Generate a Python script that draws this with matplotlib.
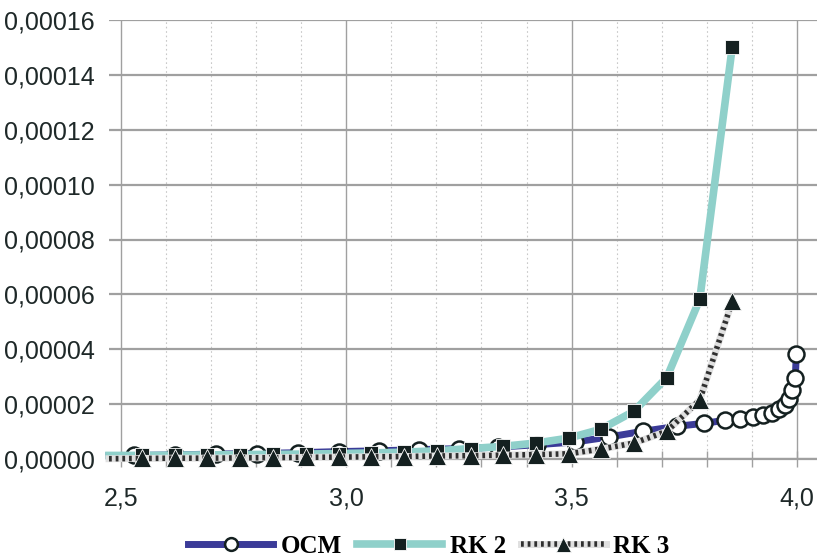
import matplotlib
matplotlib.use('Agg')
import matplotlib.pyplot as plt
from matplotlib.ticker import MultipleLocator, FuncFormatter
from matplotlib.legend_handler import HandlerTuple

# ---- data ----
x_ocm = [2.474, 2.529, 2.620, 2.711, 2.802, 2.893, 2.984, 3.073, 3.162, 3.251,
         3.336, 3.422, 3.507, 3.582, 3.658, 3.733, 3.793, 3.840, 3.873, 3.902,
         3.924, 3.944, 3.960, 3.973, 3.982, 3.989, 3.996, 3.998]
y_ocm = [0.0000012, 0.0000013, 0.0000015, 0.0000018, 0.0000020, 0.0000023,
         0.0000027, 0.0000030, 0.0000034, 0.0000038, 0.0000043, 0.0000052,
         0.0000062, 0.0000080, 0.0000101, 0.0000119, 0.0000130, 0.0000141,
         0.0000146, 0.0000152, 0.0000159, 0.0000166, 0.0000181, 0.0000197,
         0.0000217, 0.0000250, 0.0000297, 0.0000383]

x_rk = [2.474, 2.547, 2.620, 2.691, 2.764, 2.838, 2.911, 2.984, 3.056, 3.129,
        3.202, 3.276, 3.347, 3.420, 3.493, 3.564, 3.638, 3.711, 3.784, 3.856]
y_rk2 = [0.0000013, 0.0000013, 0.0000014, 0.0000015, 0.0000016, 0.0000017,
         0.0000018, 0.0000020, 0.0000022, 0.0000025, 0.0000030, 0.0000038,
         0.0000046, 0.0000058, 0.0000076, 0.0000108, 0.0000174, 0.0000297,
         0.0000582, 0.0001501]
y_rk3 = [0.0000001, 0.0000002, 0.0000003, 0.0000003, 0.0000004, 0.0000005,
         0.0000006, 0.0000007, 0.0000008, 0.0000009, 0.0000011, 0.0000012,
         0.0000014, 0.0000016, 0.0000019, 0.0000036, 0.0000058, 0.0000101,
         0.0000215, 0.0000575]

labels = ['OCM', 'RK 2', 'RK 3']

# ---- figure ----
fig = plt.figure(figsize=(8.17, 5.57), dpi=100)
ax = fig.add_axes([109/817, 1 - 459/557, 1 - 109/817, (459 - 20)/557])

dark = '#142020'
skip_first = slice(1, None)

l_ocm, = ax.plot(x_ocm, y_ocm, color='#3b3b98', lw=5, marker='o', ms=11.5,
                 mfc='white', mec=dark, mew=1.8, markevery=skip_first,
                 clip_on=False, zorder=3)
l_rk2, = ax.plot(x_rk, y_rk2, color='#8fd0ca', lw=5.5, marker='s', ms=10.5,
                 mfc=dark, mec='white', mew=0.6, markevery=skip_first,
                 clip_on=False, zorder=4)
# hatched look for RK 3: light base + dark dots on top
l_rk3a, = ax.plot(x_rk, y_rk3, color='#e0e0e0', lw=5, clip_on=False, zorder=5)
l_rk3b, = ax.plot(x_rk, y_rk3, color='#303030', lw=4, ls=(0, (0.5, 0.7)),
                  marker='^', ms=13.5, mfc=dark, mec='white', mew=0.6,
                  markevery=skip_first, clip_on=False, zorder=6)

ax.set_xlim(2.474, 4.044)
ax.set_ylim(0, 0.00016)

ax.xaxis.set_major_locator(MultipleLocator(0.5))
ax.xaxis.set_minor_locator(MultipleLocator(0.1))
ax.yaxis.set_major_locator(MultipleLocator(0.00002))
ax.xaxis.set_major_formatter(FuncFormatter(lambda v, p: f'{v:.1f}'.replace('.', ',')))
ax.yaxis.set_major_formatter(FuncFormatter(lambda v, p: f'{v:.5f}'.replace('.', ',')))

ax.grid(axis='y', which='major', color='#a0a0a0', lw=1.6)
ax.grid(axis='x', which='major', color='#a0a0a0', lw=1.0)
ax.grid(axis='x', which='minor', color='#c8c8c8', lw=0.8, ls=(0, (1.5, 2.5)))
ax.set_axisbelow(True)

for s in ['top', 'right', 'left']:
    ax.spines[s].set_visible(False)
ax.spines['bottom'].set_color('#a0a0a0')
ax.spines['bottom'].set_linewidth(1.6)

ax.tick_params(axis='x', which='both', direction='inout', length=11,
               color='#a0a0a0', width=1.0, labelsize=18, pad=14,
               labelcolor='#1e2828')
ax.tick_params(axis='y', length=0, labelsize=18, pad=10, labelcolor='#1e2828')
for t in ax.get_xticklabels() + ax.get_yticklabels():
    t.set_family('Liberation Sans')

fig.legend([l_ocm, l_rk2, (l_rk3a, l_rk3b)], labels,
           handler_map={tuple: HandlerTuple(ndivide=1)},
           loc='lower center', bbox_to_anchor=(0.525, -0.042), ncol=3,
           frameon=False, handlelength=3.4, handletextpad=0.3,
           columnspacing=0.6, markerscale=0.8,
           prop={'family': 'Liberation Serif', 'weight': 'bold', 'size': 18})

fig.savefig('out.png', dpi=100)
